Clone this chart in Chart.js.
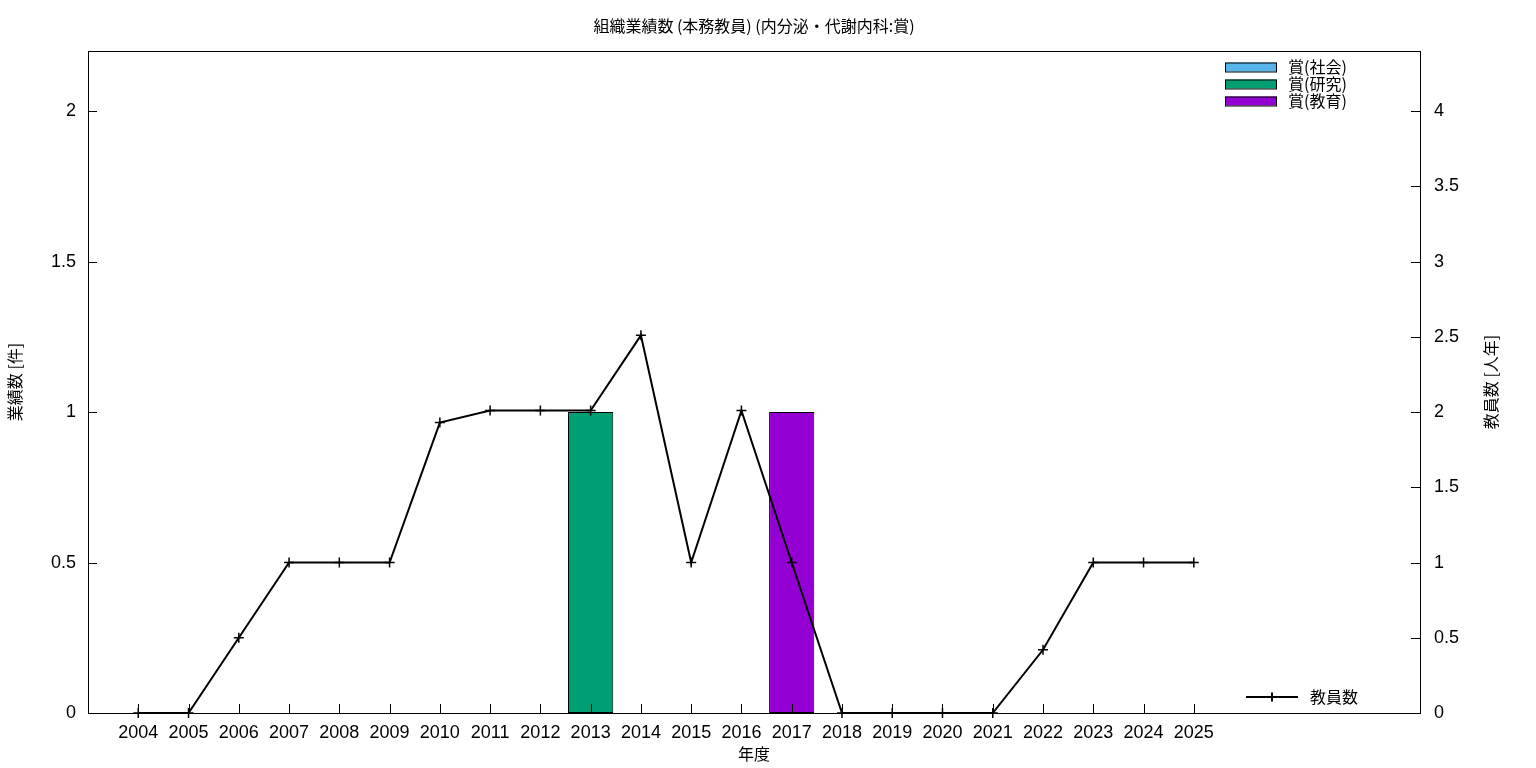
<!DOCTYPE html>
<html>
<head>
<meta charset="utf-8">
<script src="https://cdn.jsdelivr.net/npm/chart.js@4/dist/chart.umd.min.js"></script>
<style>
html,body{margin:0;padding:0;background:#fff;}
#wrap{width:1536px;height:768px;position:relative;}
</style>
</head>
<body>
<div id="wrap"><canvas id="c"></canvas></div>
<script>
const YEARS = ['2004','2005','2006','2007','2008','2009','2010','2011','2012','2013','2014','2015','2016','2017','2018','2019','2020','2021','2022','2023','2024','2025'];
const AWARD_SOCIAL    = [null,null,null,null,null,null,null,null,null,null,null,null,null,null,null,null,null,null,null,null,null,null];
const AWARD_RESEARCH  = [null,null,null,null,null,null,null,null,null,1,null,null,null,null,null,null,null,null,null,null,null,null];
const AWARD_EDUCATION = [null,null,null,null,null,null,null,null,null,null,null,null,null,1,null,null,null,null,null,null,null,null];
const STAFF = [0,0,0.5,1,1,1,1.93,2.01,2.01,2.01,2.51,1,2.01,1,0,0,0,0,0.42,1,1,1];
const LEFT_TICKS = [0,0.5,1,1.5,2];
const RIGHT_TICKS = [0,0.5,1,1.5,2,2.5,3,3.5,4];

const TITLE = '組織業績数 (本務教員) (内分泌・代謝内科:賞)';
const Y_TITLE = '業績数 [件]';
const Y2_TITLE = '教員数 [人年]';
const X_TITLE = '年度';
const BAR_LABELS = ['賞(社会)','賞(研究)','賞(教育)'];
const BAR_COLORS = ['#56b4e9','#009e73','#9400d3'];
const LINE_LABEL = '教員数';

const FONT = "'Liberation Sans', 'Noto Sans CJK JP', sans-serif";
const CJK = "'Noto Sans CJK JP', 'Liberation Sans', sans-serif";

const toXY = arr => arr.map((v,i)=>({x:i, y:v}));

const deco = {
  id:'deco',
  afterDraw(chart){
    const ctx = chart.ctx, a = chart.chartArea;
    const xs = chart.scales.x, yl = chart.scales.y, yr = chart.scales.y2;
    ctx.save();
    ctx.strokeStyle = '#000'; ctx.lineWidth = 1;
    ctx.strokeRect(Math.round(a.left)+0.5, Math.round(a.top)+0.5, Math.round(a.right-a.left), Math.round(a.bottom-a.top));
    const T = 9;
    ctx.beginPath();
    LEFT_TICKS.forEach(v=>{const y=Math.round(yl.getPixelForValue(v))+0.5; ctx.moveTo(a.left,y); ctx.lineTo(a.left+T,y);});
    RIGHT_TICKS.forEach(v=>{const y=Math.round(yr.getPixelForValue(v))+0.5; ctx.moveTo(a.right,y); ctx.lineTo(a.right-T,y);});
    YEARS.forEach((_,i)=>{const x=Math.round(xs.getPixelForValue(i))+0.5; ctx.moveTo(x,a.bottom); ctx.lineTo(x,a.bottom-T);});
    ctx.stroke();

    ctx.fillStyle = '#000';
    ctx.textAlign = 'center'; ctx.textBaseline = 'middle';
    ctx.font = '16px ' + CJK;
    ctx.fillText(TITLE, (a.left+a.right)/2, 26);
    ctx.fillText(X_TITLE, (a.left+a.right)/2, 754);
    const cy = (a.top+a.bottom)/2;
    ctx.save(); ctx.translate(15, cy); ctx.rotate(-Math.PI/2); ctx.fillText(Y_TITLE,0,0); ctx.restore();
    ctx.save(); ctx.translate(1491, cy); ctx.rotate(-Math.PI/2); ctx.fillText(Y2_TITLE,0,0); ctx.restore();

    // bar legend
    ctx.textAlign = 'left';
    BAR_LABELS.forEach((lab,i)=>{
      const y = 67 + i*17;
      ctx.fillStyle = BAR_COLORS[i];
      ctx.fillRect(1225, y-4.5, 52, 9);
      ctx.strokeStyle = '#000';
      ctx.strokeRect(1225.5, y-4, 51, 9);
      ctx.fillStyle = '#000';
      ctx.fillText(lab, 1288, y);
    });
    // line legend
    ctx.lineWidth = 2;
    ctx.beginPath(); ctx.moveTo(1246, 697); ctx.lineTo(1298, 697);
    ctx.moveTo(1272, 692.5); ctx.lineTo(1272, 701.5); ctx.stroke();
    ctx.fillText(LINE_LABEL, 1310, 697);
    ctx.restore();
  }
};

const barCommon = {type:'bar', yAxisID:'y', xAxisID:'x', borderColor:'#000', borderWidth:1, borderSkipped:false,
  barPercentage:0.9, categoryPercentage:1.0, grouped:false, order:2};

new Chart(document.getElementById('c'), {
  data:{
    datasets:[
      Object.assign({label:BAR_LABELS[0], data:toXY(AWARD_SOCIAL), backgroundColor:BAR_COLORS[0]}, barCommon),
      Object.assign({label:BAR_LABELS[1], data:toXY(AWARD_RESEARCH), backgroundColor:BAR_COLORS[1]}, barCommon),
      Object.assign({label:BAR_LABELS[2], data:toXY(AWARD_EDUCATION), backgroundColor:BAR_COLORS[2]}, barCommon),
      {type:'line', label:LINE_LABEL, data:toXY(STAFF), yAxisID:'y2', xAxisID:'x', borderColor:'#000', borderWidth:2,
       pointStyle:'cross', pointRadius:5, pointBorderColor:'#000', pointBorderWidth:1.5, pointBackgroundColor:'#000',
       tension:0, order:0, clip:false}
    ]
  },
  options:{
    responsive:true, maintainAspectRatio:false, animation:false,
    layout:{padding:{top:51,left:0,right:0,bottom:0}},
    plugins:{legend:{display:false}, title:{display:false}, tooltip:{enabled:false}},
    scales:{
      x:{type:'linear', min:-1, max:25.5, offset:false,
         grid:{display:false, drawTicks:false}, border:{display:false},
         afterBuildTicks(s){ s.ticks = YEARS.map((_,i)=>({value:i})); },
         afterFit(s){ s.height = 55; },
         ticks:{autoSkip:false, maxRotation:0, padding:9, color:'#000', font:{family:FONT, size:18},
                callback:(v)=>YEARS[v]}},
      y:{type:'linear', position:'left', min:0, max:2.2,
         grid:{display:false, drawTicks:false}, border:{display:false},
         afterBuildTicks(s){ s.ticks = LEFT_TICKS.map(v=>({value:v})); },
         afterFit(s){ s.width = 88; },
         ticks:{padding:12, color:'#000', font:{family:FONT, size:18}, callback:(v)=>String(v)}},
      y2:{type:'linear', position:'right', min:0, max:4.4,
         grid:{display:false, drawTicks:false}, border:{display:false},
         afterBuildTicks(s){ s.ticks = RIGHT_TICKS.map(v=>({value:v})); },
         afterFit(s){ s.width = 116; },
         ticks:{padding:14, color:'#000', font:{family:FONT, size:18}, callback:(v)=>String(v)}}
    }
  },
  plugins:[deco]
});
</script>
</body>
</html>
